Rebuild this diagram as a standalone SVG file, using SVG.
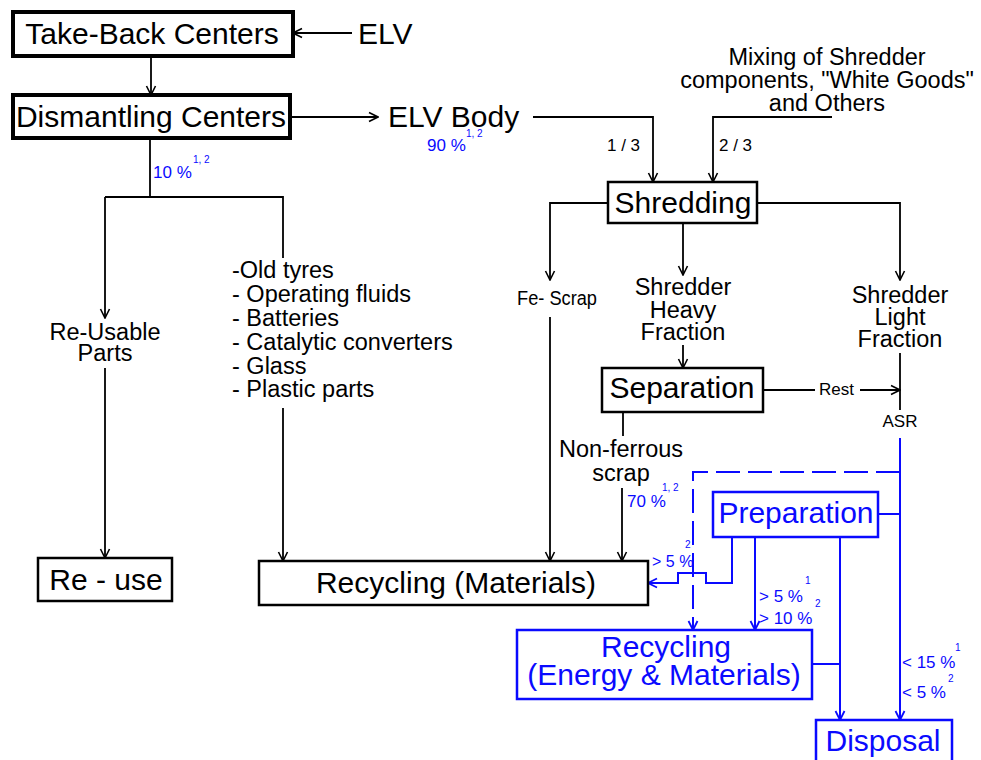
<svg xmlns="http://www.w3.org/2000/svg" width="981" height="760" viewBox="0 0 981 760">
<style>
text{font-family:"Liberation Sans",Arial,sans-serif;fill:#000}
.box{fill:#fff;stroke:#000;stroke-width:2.5}
.thick{stroke-width:4}
.bbox{fill:#fff;stroke:#0a0aff;stroke-width:2.5}
.ln{fill:none;stroke:#000;stroke-width:1.8}
.bl{fill:none;stroke:#0a0aff;stroke-width:2}
.dash{stroke-dasharray:24 8}
.big{font-size:30px}
.mid{font-size:23.5px}
.sm{font-size:17px}
.sup{font-size:10px}
.blue{fill:#0a0aff}
.c{text-anchor:middle}
</style>
<defs>
<marker id="ab" viewBox="-11 -6 12 12" refX="0" refY="0" markerWidth="12" markerHeight="12" markerUnits="userSpaceOnUse" orient="auto">
<path d="M-9,-4.5 L0,0 L-9,4.5" fill="none" stroke="#000" stroke-width="1.6"/>
</marker>
<marker id="abl" viewBox="-11 -6 12 12" refX="0" refY="0" markerWidth="12" markerHeight="12" markerUnits="userSpaceOnUse" orient="auto">
<path d="M-9,-4.5 L0,0 L-9,4.5" fill="none" stroke="#0a0aff" stroke-width="1.8"/>
</marker>
</defs>

<g id="connectors">
<path class="ln" d="M352,33 H293" marker-end="url(#ab)"/>
<path class="ln" d="M151,56 V95" marker-end="url(#ab)"/>
<path class="ln" d="M290,117 H378" marker-end="url(#ab)"/>
<path class="ln" d="M533,117 H653 V182" marker-end="url(#ab)"/>
<path class="ln" d="M832,117 H713 V182" marker-end="url(#ab)"/>
<path class="ln" d="M150,138 V197"/>
<path class="ln" d="M105,197 H283 V258"/>
<path class="ln" d="M105,197 V318" marker-end="url(#ab)"/>
<path class="ln" d="M105,368 V558" marker-end="url(#ab)"/>
<path class="ln" d="M283,408 V561" marker-end="url(#ab)"/>
<path class="ln" d="M608,203 H550 V280" marker-end="url(#ab)"/>
<path class="ln" d="M550,317 V561" marker-end="url(#ab)"/>
<path class="ln" d="M683,223 V275" marker-end="url(#ab)"/>
<path class="ln" d="M683,345 V368" marker-end="url(#ab)"/>
<path class="ln" d="M757,203 H900 V280" marker-end="url(#ab)"/>
<path class="ln" d="M900,353 V410"/>
<path class="ln" d="M763,390 H815"/>
<path class="ln" d="M860,390 H900" marker-end="url(#ab)"/>
<path class="ln" d="M623,412 V436"/>
<path class="ln" d="M622,488 V561" marker-end="url(#ab)"/>

<path class="bl" d="M900,438 V720" marker-end="url(#abl)"/>
<path class="bl dash" d="M900,472 H693 V630" marker-end="url(#abl)"/>
<path class="bl" d="M878,514 H900"/>
<path class="bl" d="M732,537 V583 H706 V573 H678 V583 H648" marker-end="url(#abl)"/>
<path class="bl" d="M755,537 V630" marker-end="url(#abl)"/>
<path class="bl" d="M840,537 V720" marker-end="url(#abl)"/>
<path class="bl" d="M812,664 H840"/>
</g>

<g id="take-back">
<rect class="box thick" x="13" y="12" width="280" height="44"/>
<text class="big c" x="152" y="44">Take-Back Centers</text>
</g>
<g id="elv">
<text class="big" x="358" y="44">ELV</text>
</g>
<g id="dismantling">
<rect class="box thick" x="13" y="95" width="277" height="43"/>
<text class="big c" x="151" y="127">Dismantling Centers</text>
</g>
<g id="elv-body">
<text class="big" x="388" y="127">ELV Body</text>
<text class="sm blue" x="427" y="151">90 %</text>
<text class="sup blue" x="466" y="137">1, 2</text>
</g>
<g id="mixing">
<text class="mid c" x="827" y="65">Mixing of Shredder</text>
<text class="mid c" x="827" y="88">components, "White Goods"</text>
<text class="mid c" x="827" y="111">and Others</text>
</g>
<g id="ratios">
<text class="sm" x="607" y="151">1 / 3</text>
<text class="sm" x="719" y="151">2 / 3</text>
</g>
<g id="pct10">
<text class="sm blue" x="153" y="178">10 %</text>
<text class="sup blue" x="193" y="163">1, 2</text>
</g>
<g id="shredding">
<rect class="box" x="608" y="182" width="149" height="41"/>
<text class="big c" x="683" y="213">Shredding</text>
</g>
<g id="re-usable">
<text class="mid c" x="105" y="340">Re-Usable</text>
<text class="mid c" x="105" y="361">Parts</text>
</g>
<g id="list">
<text class="mid" x="232" y="278">-Old tyres</text>
<text class="mid" x="232" y="302">- Operating fluids</text>
<text class="mid" x="232" y="326">- Batteries</text>
<text class="mid" x="232" y="350">- Catalytic converters</text>
<text class="mid" x="232" y="374">- Glass</text>
<text class="mid" x="232" y="397">- Plastic parts</text>
</g>
<g id="fe-scrap">
<text x="517" y="305" style="font-size:20px" textLength="80" lengthAdjust="spacingAndGlyphs">Fe- Scrap</text>
</g>
<g id="heavy">
<text class="mid c" x="683" y="295">Shredder</text>
<text class="mid c" x="683" y="318">Heavy</text>
<text class="mid c" x="683" y="340">Fraction</text>
</g>
<g id="light">
<text class="mid c" x="900" y="303">Shredder</text>
<text class="mid c" x="900" y="325">Light</text>
<text class="mid c" x="900" y="347">Fraction</text>
</g>
<g id="separation">
<rect class="box" x="602" y="368" width="161" height="44"/>
<text class="big c" x="682" y="398">Separation</text>
</g>
<g id="rest">
<text class="sm" x="819" y="395">Rest</text>
</g>
<g id="asr">
<text class="sm c" x="900" y="427">ASR</text>
</g>
<g id="non-ferrous">
<text class="mid c" x="621" y="457">Non-ferrous</text>
<text class="mid c" x="621" y="481">scrap</text>
<text class="sm blue" x="627" y="507">70 %</text>
<text class="sup blue" x="662" y="491">1, 2</text>
</g>
<g id="preparation">
<rect class="bbox" x="713" y="492" width="165" height="45"/>
<text class="big c blue" x="796" y="523">Preparation</text>
</g>
<g id="re-use">
<rect class="box" x="38" y="558" width="134" height="43"/>
<text class="big c" x="106" y="590">Re - use</text>
</g>
<g id="recycling-materials">
<rect class="box" x="259" y="561" width="389" height="44"/>
<text class="big c" x="456" y="593">Recycling (Materials)</text>
</g>
<g id="pct-labels">
<text class="blue" style="font-size:16px" x="652" y="567">&gt; 5 %</text>
<text class="sup blue" x="685" y="548">2</text>
<text class="sm blue" x="759" y="602">&gt; 5 %</text>
<text class="sup blue" x="805" y="584">1</text>
<text class="sm blue" x="759" y="624">&gt; 10 %</text>
<text class="sup blue" x="815" y="607">2</text>
<text class="sm blue" x="902" y="668">&lt; 15 %</text>
<text class="sup blue" x="955" y="651">1</text>
<text class="sm blue" x="902" y="698">&lt; 5 %</text>
<text class="sup blue" x="948" y="682">2</text>
</g>
<g id="recycling-energy">
<rect class="bbox" x="517" y="630" width="295" height="69"/>
<text class="big c blue" x="666" y="657">Recycling</text>
<text class="big c blue" x="664" y="685">(Energy &amp; Materials)</text>
</g>
<g id="disposal">
<rect class="bbox" x="816" y="720" width="136" height="60"/>
<text class="big c blue" x="883" y="751">Disposal</text>
</g>
</svg>
